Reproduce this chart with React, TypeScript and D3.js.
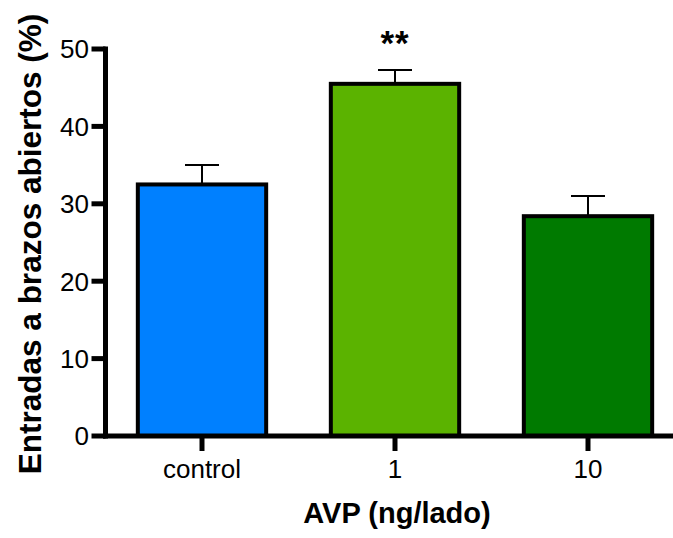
import * as d3 from 'd3';

const categories = ['control', '1', '10'];
const means = [32.5, 45.5, 28.4];
const sems = [2.5, 1.8, 2.6];
const colors = ['#0080ff', '#5bb300', '#007a00'];
const yTicks = [0, 10, 20, 30, 40, 50];
const significance = ['', '**', ''];

const App = () => {
  const width = 673;
  const height = 538;

  const x = d3
    .scaleBand<string>()
    .domain(categories)
    .range([105.5, 684.5])
    .paddingInner(0.335)
    .paddingOuter(0.1675);

  const y = d3.scaleLinear().domain([0, 50]).range([436, 49]);

  const axisX = 105.5;
  const axisY = y(0);

  return (
    <svg
      width={width}
      height={height}
      style={{ position: 'absolute', left: 0, top: 0, background: '#fff' }}
      fontFamily="'Liberation Sans', Arial, Helvetica, sans-serif"
    >
      {/* bars */}
      <g id="bars">
        {categories.map((c, i) => {
          const x0 = x(c) as number;
          const bw = x.bandwidth();
          const top = y(means[i]);
          const cx = x0 + bw / 2;
          return (
            <g key={c}>
              <line
                x1={cx}
                x2={cx}
                y1={top}
                y2={y(means[i] + sems[i])}
                stroke="#000"
                strokeWidth={2}
              />
              <line
                x1={cx - 17}
                x2={cx + 17}
                y1={y(means[i] + sems[i])}
                y2={y(means[i] + sems[i])}
                stroke="#000"
                strokeWidth={2}
              />
              <rect
                x={x0}
                y={top}
                width={bw}
                height={axisY - top}
                fill={colors[i]}
                stroke="#000"
                strokeWidth={4}
              />
              {significance[i] && (
                <text
                  x={cx}
                  y={55}
                  textAnchor="middle"
                  fontSize={35}
                  fontWeight="bold"
                  letterSpacing={1}
                >
                  {significance[i]}
                </text>
              )}
            </g>
          );
        })}
      </g>

      {/* y axis */}
      <g id="yAxis">
        <line x1={axisX} x2={axisX} y1={y(50) - 2.5} y2={axisY + 2.5} stroke="#000" strokeWidth={5} />
        {yTicks.map((t) => (
          <g key={t}>
            <line x1={axisX - 14} x2={axisX} y1={y(t)} y2={y(t)} stroke="#000" strokeWidth={5} />
            <text x={89} y={y(t)} dy="0.36em" textAnchor="end" fontSize={26}>
              {t}
            </text>
          </g>
        ))}
      </g>

      {/* x axis */}
      <g id="xAxis">
        <line x1={axisX - 2.5} x2={width} y1={axisY} y2={axisY} stroke="#000" strokeWidth={5} />
        {categories.map((c) => {
          const cx = (x(c) as number) + x.bandwidth() / 2;
          return (
            <g key={c}>
              <line x1={cx} x2={cx} y1={axisY} y2={axisY + 15} stroke="#000" strokeWidth={5} />
              <text x={cx} y={478} textAnchor="middle" fontSize={26}>
                {c}
              </text>
            </g>
          );
        })}
      </g>

      <text x={397} y={523} textAnchor="middle" fontSize={29} fontWeight="bold">
        AVP (ng/lado)
      </text>
      <text
        transform="translate(41,244) rotate(-90)"
        textAnchor="middle"
        fontSize={31.5}
        fontWeight="bold"
      >
        Entradas a brazos abiertos (%)
      </text>
    </svg>
  );
};

export default App;
